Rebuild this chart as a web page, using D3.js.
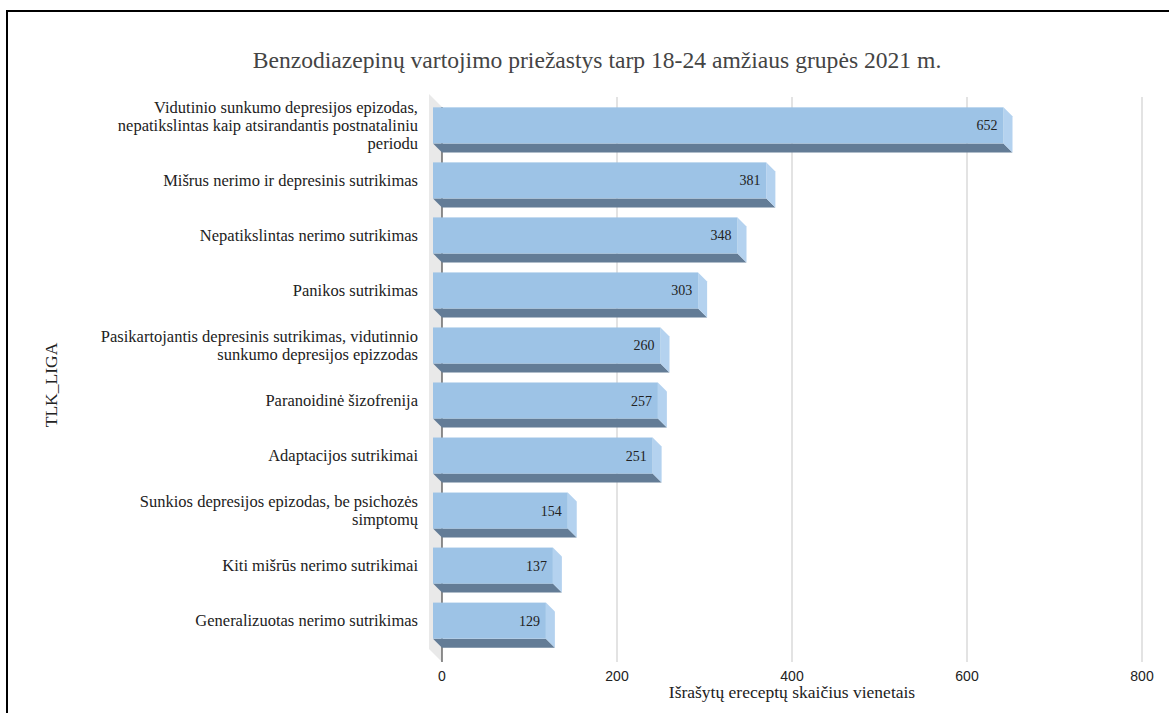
<!DOCTYPE html>
<html>
<head>
<meta charset="utf-8">
<script src="https://cdn.jsdelivr.net/npm/d3@7"></script>
<style>
  html, body { margin: 0; padding: 0; background: #fff; }
  svg { display: block; }
</style>
</head>
<body>
<svg id="chart" width="1169" height="713"></svg>
<script>
const categories = [
  "Vidutinio sunkumo depresijos epizodas, nepatikslintas kaip atsirandantis postnataliniu periodu",
  "Mišrus nerimo ir depresinis sutrikimas",
  "Nepatikslintas nerimo sutrikimas",
  "Panikos sutrikimas",
  "Pasikartojantis depresinis sutrikimas, vidutinnio sunkumo depresijos epizzodas",
  "Paranoidinė šizofrenija",
  "Adaptacijos sutrikimai",
  "Sunkios depresijos epizodas, be psichozės simptomų",
  "Kiti mišrūs nerimo sutrikimai",
  "Generalizuotas nerimo sutrikimas"
];
const values = [652, 381, 348, 303, 260, 257, 251, 154, 137, 129];
const xTicks = [0, 200, 400, 600, 800];
const title = "Benzodiazepinų vartojimo priežastys tarp 18-24 amžiaus grupės 2021 m.";
const xTitle = "Išrašytų ereceptų skaičius vienetais";
const yTitle = "TLK_LIGA";

const svg = d3.select("#chart");
const depth = 9;
const serif = "'Liberation Serif', 'Times New Roman', serif";
const sans = "'Liberation Sans', Arial, sans-serif";
const catFont = 16.5;

// frame (top and left visible)
svg.append("rect").attr("x", 7).attr("y", 11).attr("width", 1200).attr("height", 800)
  .attr("fill", "none").attr("stroke", "#000").attr("stroke-width", 2);

const x = d3.scaleLinear().domain([0, 800]).range([442, 1142]);
const plotTop = 97, plotBottom = 662;
const y = d3.scaleBand().domain(categories).range([98, 648]).paddingInner(0.345).paddingOuter(0.17);

// title
svg.append("text").attr("x", 597).attr("y", 68).attr("text-anchor", "middle")
  .attr("font-family", serif).attr("font-size", 23.6).attr("fill", "#444").text(title);

// side wall
svg.append("polygon")
  .attr("points", [[x(0) - 13, plotTop - 3], [x(0), plotTop + 10], [x(0), plotBottom], [x(0) - 13, plotBottom - 13]].map(p => p.join(",")).join(" "))
  .attr("fill", "#e9e9e9");

// gridlines
svg.append("g").selectAll("line").data(xTicks.filter(d => d > 0)).join("line")
  .attr("x1", d => x(d)).attr("x2", d => x(d))
  .attr("y1", plotTop).attr("y2", plotBottom)
  .attr("stroke", "#d4d4d4").attr("stroke-width", 1.3);

// zero axis line
svg.append("line").attr("x1", x(0)).attr("x2", x(0)).attr("y1", plotTop + 10).attr("y2", plotBottom)
  .attr("stroke", "#555").attr("stroke-width", 1.3);

// tick labels
svg.append("g").selectAll("text").data(xTicks).join("text")
  .attr("x", d => x(d)).attr("y", 681).attr("text-anchor", "middle")
  .attr("font-family", sans).attr("font-size", 14).attr("fill", "#222")
  .text(d => d);

// bars
const bars = svg.append("g").selectAll("g").data(categories).join("g");
bars.each(function (c, i) {
  const g = d3.select(this);
  const v = values[i];
  const x0 = x(0) - depth, x1 = x(v) - depth;
  const t = y(c), h = y.bandwidth();
  g.append("polygon")
    .attr("points", [[x0, t + h], [x1, t + h], [x1 + depth, t + h + depth], [x0 + depth, t + h + depth]].map(p => p.join(",")).join(" "))
    .attr("fill", "#637c96");
  g.append("polygon")
    .attr("points", [[x1, t], [x1 + depth, t + depth], [x1 + depth, t + h + depth], [x1, t + h]].map(p => p.join(",")).join(" "))
    .attr("fill", "#b4d2ef");
  g.append("rect").attr("x", x0).attr("y", t).attr("width", x1 - x0).attr("height", h)
    .attr("fill", "#9dc3e6");
  g.append("text").attr("x", x1 - 6).attr("y", t + h / 2 + 5).attr("text-anchor", "end")
    .attr("font-family", serif).attr("font-size", 14).attr("fill", "#222").text(v);
});

// category labels with wrapping
function wrapLines(text, maxW) {
  const tmp = svg.append("text").attr("font-family", serif).attr("font-size", catFont);
  const words = text.split(" ");
  const lines = [];
  let cur = "";
  words.forEach(w => {
    const test = cur ? cur + " " + w : w;
    tmp.text(test);
    if (tmp.node().getComputedTextLength() > maxW && cur) {
      lines.push(cur); cur = w;
    } else cur = test;
  });
  if (cur) lines.push(cur);
  tmp.remove();
  return lines;
}
const lh = 18;
categories.forEach(c => {
  const lines = wrapLines(c, 330);
  const cy = y(c) + y.bandwidth() / 2;
  const t = svg.append("text").attr("text-anchor", "end")
    .attr("font-family", serif).attr("font-size", catFont).attr("fill", "#222");
  lines.forEach((l, k) => {
    t.append("tspan").attr("x", 418)
      .attr("y", cy + 5.5 + (k - (lines.length - 1) / 2) * lh).text(l);
  });
});

// axis titles
svg.append("text").attr("x", (x(0) + x(800)) / 2).attr("y", 698).attr("text-anchor", "middle")
  .attr("font-family", serif).attr("font-size", 17.5).attr("fill", "#222").text(xTitle);
svg.append("text").attr("transform", "translate(57,385) rotate(-90)").attr("text-anchor", "middle")
  .attr("font-family", serif).attr("font-size", 17.5).attr("fill", "#222").text(yTitle);
</script>
</body>
</html>
